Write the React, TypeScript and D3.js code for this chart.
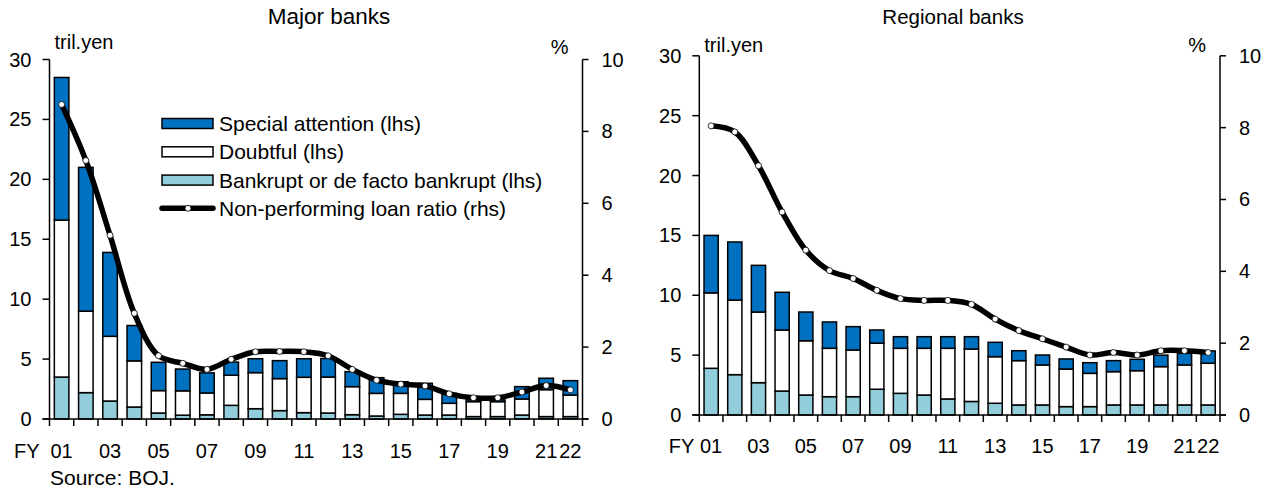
import React from 'react';
import * as d3 from 'd3';

const years = ['01','02','03','04','05','06','07','08','09','10','11','12','13','14','15','16','17','18','19','20','21','22'];
const tickLabels = ['01','03','05','07','09','11','13','15','17','19','21','22'];
const lhsTicks = [0, 5, 10, 15, 20, 25, 30];
const rhsTicks = [0, 2, 4, 6, 8, 10];

const majorBankrupt = [3.5, 2.2, 1.5, 1.0, 0.5, 0.32, 0.35, 1.14, 0.86, 0.7, 0.53, 0.5, 0.36, 0.25, 0.39, 0.33, 0.33, 0.2, 0.2, 0.33, 0.2, 0.2];
const majorDoubtful = [13.1, 6.8, 5.4, 3.85, 1.87, 2.03, 1.82, 2.51, 3.01, 2.67, 2.95, 3.0, 2.34, 1.89, 1.75, 1.31, 0.98, 1.25, 1.25, 1.34, 2.25, 1.8];
const majorSpecial = [11.9, 12.0, 7.0, 2.95, 2.36, 1.82, 1.68, 1.1, 1.16, 1.5, 1.55, 1.55, 1.25, 1.31, 0.97, 1.34, 0.83, 0.15, 0.15, 1.03, 0.95, 1.2];
const majorRatio = [8.75, 7.19, 5.11, 2.94, 1.76, 1.55, 1.38, 1.66, 1.87, 1.88, 1.87, 1.76, 1.38, 1.08, 0.97, 0.92, 0.70, 0.59, 0.59, 0.75, 0.93, 0.81];

const regionalBankrupt = [3.9, 3.37, 2.7, 2.0, 1.67, 1.53, 1.53, 2.15, 1.81, 1.67, 1.34, 1.13, 0.98, 0.84, 0.84, 0.7, 0.7, 0.84, 0.84, 0.84, 0.84, 0.84];
const regionalDoubtful = [6.3, 6.23, 5.9, 5.1, 4.53, 4.04, 3.9, 3.85, 3.76, 3.9, 4.23, 4.38, 3.89, 3.7, 3.34, 3.14, 2.78, 2.78, 2.86, 3.2, 3.34, 3.48];
const regionalSpecial = [4.8, 4.85, 3.9, 3.15, 2.4, 2.2, 1.95, 1.1, 0.97, 0.97, 0.97, 1.03, 1.2, 0.83, 0.83, 0.84, 0.89, 0.92, 0.95, 0.96, 0.97, 1.03];
const regionalRatio = [8.05, 7.88, 6.94, 5.65, 4.59, 4.02, 3.80, 3.47, 3.24, 3.19, 3.19, 3.08, 2.67, 2.35, 2.12, 1.89, 1.67, 1.74, 1.67, 1.79, 1.79, 1.74];

const legendLabels = ['Special attention (lhs)', 'Doubtful (lhs)', 'Bankrupt or de facto bankrupt (lhs)', 'Non-performing loan ratio (rhs)'];

const SPECIAL = '#0070C0';
const DOUBTFUL = '#FFFFFF';
const BANKRUPT = '#92CDDC';
const FONT = '"Liberation Sans", Arial, sans-serif';

type PanelProps = {
  title: string; titleX: number; titleSize: number;
  bankrupt: number[]; doubtful: number[]; special: number[]; ratio: number[];
  x0: number; x1: number; yTop: number; yBottom: number;
  unitY: number; pctY: number; labelDy: number; fyGap: number;
  legend?: boolean;
};

function Panel(p: PanelProps) {
  const x = d3.scaleBand<string>().domain(years).range([p.x0, p.x1]).paddingInner(0).paddingOuter(0);
  const yL = d3.scaleLinear().domain([0, 30]).range([p.yBottom, p.yTop]);
  const yR = d3.scaleLinear().domain([0, 10]).range([p.yBottom, p.yTop]);
  const bw = x.bandwidth();
  const barW = bw * 0.6;
  const table = years.map((yr, i) => ({ yr, bankrupt: p.bankrupt[i], doubtful: p.doubtful[i], special: p.special[i] }));
  const stack = d3.stack<any>().keys(['bankrupt', 'doubtful', 'special'])(table);
  const colors: Record<string, string> = { bankrupt: BANKRUPT, doubtful: DOUBTFUL, special: SPECIAL };
  const line = d3.line<number>().x((_, i) => (x(years[i]) as number) + bw / 2).y(d => yR(d)).curve(d3.curveCatmullRom.alpha(0.5));
  const boundaries = d3.range(years.length + 1).map(i => p.x0 + i * bw);

  return (
    <g fontFamily={FONT} fill="#000">
      <text x={p.titleX} y={24} textAnchor="middle" fontSize={p.titleSize}>{p.title}</text>
      <text x={p.x0 + 5} y={p.unitY} fontSize={20}>tril.yen</text>
      <text x={p.x1 - 14} y={p.pctY} fontSize={20} textAnchor="end">%</text>
      {stack.map(s => (
        <g key={s.key}>
          {s.map((d, i) => (
            <rect key={i} x={(x(years[i]) as number) + (bw - barW) / 2} y={yL(d[1])} width={barW}
              height={Math.max(0, yL(d[0]) - yL(d[1]))} fill={colors[s.key]} stroke="#000" strokeWidth={1.5} />
          ))}
        </g>
      ))}
      <line x1={p.x0} x2={p.x0} y1={p.yTop} y2={p.yBottom} stroke="#000" strokeWidth={1.5} />
      <line x1={p.x1} x2={p.x1} y1={p.yTop} y2={p.yBottom} stroke="#000" strokeWidth={1.5} />
      <line x1={p.x0 - 7} x2={p.x1 + 6} y1={p.yBottom} y2={p.yBottom} stroke="#000" strokeWidth={1.5} />
      {lhsTicks.map(t => (
        <g key={'l' + t}>
          <line x1={p.x0 - 7} x2={p.x0} y1={yL(t)} y2={yL(t)} stroke="#000" strokeWidth={1.5} />
          <text x={p.x0 - 18} y={yL(t)} dy="0.35em" textAnchor="end" fontSize={20}>{t}</text>
        </g>
      ))}
      {rhsTicks.map(t => (
        <g key={'r' + t}>
          <line x1={p.x1} x2={p.x1 + 6} y1={yR(t)} y2={yR(t)} stroke="#000" strokeWidth={1.5} />
          <text x={p.x1 + 19} y={yR(t)} dy="0.35em" fontSize={20}>{t}</text>
        </g>
      ))}
      {boundaries.map((b, i) => (
        <line key={'b' + i} x1={b} x2={b} y1={p.yBottom} y2={p.yBottom + 7} stroke="#000" strokeWidth={1.5} />
      ))}
      <text x={p.x0 - p.fyGap} y={p.yBottom + p.labelDy} textAnchor="end" fontSize={20}>FY</text>
      {tickLabels.map(l => (
        <text key={'t' + l} x={(x(l) as number) + bw / 2} y={p.yBottom + p.labelDy} textAnchor="middle" fontSize={20}>{l}</text>
      ))}
      <path d={line(p.ratio) as string} fill="none" stroke="#000" strokeWidth={5.5} strokeLinejoin="round" />
      {p.ratio.map((r, i) => (
        <circle key={'c' + i} cx={(x(years[i]) as number) + bw / 2} cy={yR(r)} r={3} fill="#fff" stroke="#000" strokeWidth={0.8} />
      ))}
      {p.legend && (
        <g>
          {[SPECIAL, DOUBTFUL, BANKRUPT].map((c, i) => (
            <rect key={'lg' + i} x={162} y={118.5 + i * 28.3} width={51} height={10} fill={c} stroke="#000" strokeWidth={1.5} />
          ))}
          <line x1={162} x2={213} y1={208.3} y2={208.3} stroke="#000" strokeWidth={5.5} strokeLinecap="round" />
          <circle cx={188} cy={208.3} r={3} fill="#fff" stroke="#000" strokeWidth={0.8} />
          {legendLabels.map((l, i) => (
            <text key={'ll' + i} x={219} y={123.5 + i * 28.3} dy="0.36em" fontSize={21}>{l}</text>
          ))}
        </g>
      )}
    </g>
  );
}

export default function App() {
  return (
    <svg width={1274} height={491} style={{ position: 'absolute', left: 0, top: 0, background: '#fff' }}>
      <rect width={1274} height={491} fill="#fff" />
      <Panel title="Major banks" titleX={329} titleSize={22.5} bankrupt={majorBankrupt} doubtful={majorDoubtful} special={majorSpecial}
        ratio={majorRatio} x0={49.5} x1={582.5} yTop={59.5} yBottom={419} unitY={49} pctY={54} labelDy={39} fyGap={10} legend />
      <Panel title="Regional banks" titleX={953} titleSize={20.5} bankrupt={regionalBankrupt} doubtful={regionalDoubtful} special={regionalSpecial}
        ratio={regionalRatio} x0={699.3} x1={1220} yTop={55.8} yBottom={415} unitY={52} pctY={52} labelDy={38} fyGap={5} />
      <text x={50} y={485} fontFamily={FONT} fontSize={21}>Source: BOJ.</text>
    </svg>
  );
}
